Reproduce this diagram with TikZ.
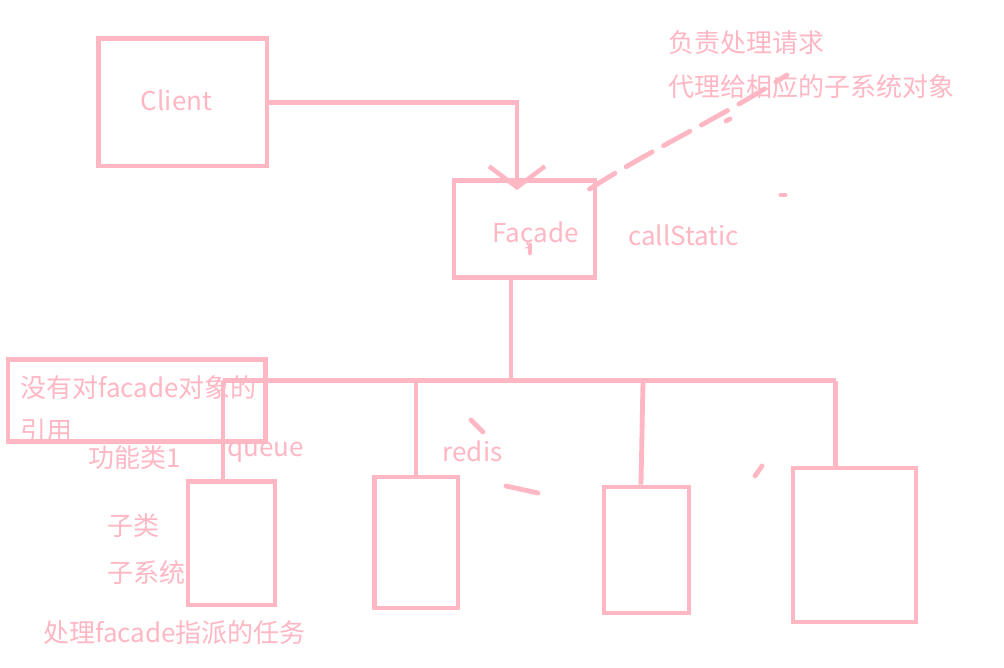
\documentclass[tikz,border=0pt]{standalone}
\usepackage{fontspec}
\setmainfont{Noto Sans CJK SC}
\usetikzlibrary{arrows.meta}
\definecolor{rosa}{RGB}{255,183,196}

\begin{document}
\begin{tikzpicture}[x=1pt, y=-1pt,
        % Stile per le scatole (classi)
        classe/.style={rectangle, draw=rosa, line width=4.8pt, fill=none, inner sep=0pt},
        % Stile per i testi scritti a mano
        scritta/.style={text=rosa, font=\fontsize{26pt}{30pt}\selectfont, inner sep=0pt},
        % Stile per le linee
        linea/.style={draw=rosa, line width=4.8pt},
        % Stile per i segni sparsi
        segno/.style={draw=rosa, line width=4.8pt, line cap=round}
    ]

        \useasboundingbox[fill=white] (0,0) rectangle (1004,668);

        % --- SCATOLE ---
        \node[classe, minimum width=168.5pt, minimum height=127.5pt] (client) at (182.75,102.25) {};
        \node[classe, minimum width=141pt,   minimum height=97pt]    (facade) at (524.5,229) {};
        \node[classe, minimum width=257.5pt, minimum height=82pt]    (nota)   at (136.75,400.5) {};
        \node[classe, minimum width=87pt,    minimum height=123.5pt] (sub1)   at (231.5,543.25) {};
        \node[classe, minimum width=83.5pt,  minimum height=131pt]   (sub2)   at (416.25,542.5) {};
        \node[classe, minimum width=85pt,    minimum height=126pt]   (sub3)   at (646.5,550) {};
        \node[classe, minimum width=123pt,   minimum height=154pt]   (sub4)   at (854.5,545) {};

        % --- TESTI ---
        \node[scritta] (tClient) at (176.5,100.5) {Client};
        \node[scritta, anchor=base] (tFacade) at (535.5,242.3) {Façade};
        \node[scritta, anchor=base] (tStatic) at (683.5,246) {callStatic};
        \node[scritta, anchor=west] (tResp)  at (668,43) {负责处理请求};
        \node[scritta, anchor=west] (tProxy) at (668,87) {代理给相应的子系统对象};
        \node[scritta, anchor=west] (tNota1) at (20,388) {没有对facade对象的};
        \node[scritta, anchor=west] (tNota2) at (20,431) {引用};
        \node[scritta] (tFunz) at (134.5,458) {功能类1};
        \node[scritta, anchor=base west] (tQueue) at (227,456) {queue};
        \node[scritta, anchor=base] (tRedis) at (472.5,461) {redis};
        \node[scritta, anchor=west] (tSub)  at (107,525.5) {子类};
        \node[scritta, anchor=west] (tSys)  at (107,573) {子系统};
        \node[scritta, anchor=west] (tTask) at (43,632.5) {处理facade指派的任务};

        % --- COLLEGAMENTI ---
        \draw[linea, -{Straight Barb[length=21pt, width=56pt, line width=4.5pt]}]
            (client.east) -| ([xshift=-7.5pt, yshift=-12pt]facade.north);

        % Linea tratteggiata verso la nota in alto
        \coordinate (notaFine) at (787,75);
        \draw[segno, dash pattern=on 30pt off 13pt]
            ([xshift=-8pt, yshift=-11pt]facade.north east) .. controls (650,150) and (720,118) .. (notaFine);

        % Bus orizzontale verso i sottosistemi
        \coordinate (b1) at (223,380.5);
        \coordinate (b2) at (416,380.5);
        \coordinate (b3) at (643,380.5);
        \coordinate (b4) at (835.5,380.5);
        \coordinate (bF) at (511,380.5);
        \draw[linea] ([xshift=-13.5pt]facade.south) -- (bF);
        \draw[linea] (b1) -- (b4);
        \draw[linea] (b1) -- (b1 |- sub1.north);
        \draw[linea] (b2) -- (b2 |- sub2.north);
        \draw[linea] (b3) -- ([xshift=-5.5pt]sub3.north);
        \draw[linea] (b4) -- (b4 |- sub4.north);

        % --- SEGNI SPARSI ---
        \draw[segno] (530,245) -- (530,253);
        \draw[segno] (471,420) -- (483,432);
        \draw[segno] (506,486) -- (538,493);
        \draw[segno] (755,476) -- (762,466);
        \draw[segno] (726,121) -- (730,119);
        \draw[segno] (781,195) -- (785,195);

    \end{tikzpicture}
\end{document}
